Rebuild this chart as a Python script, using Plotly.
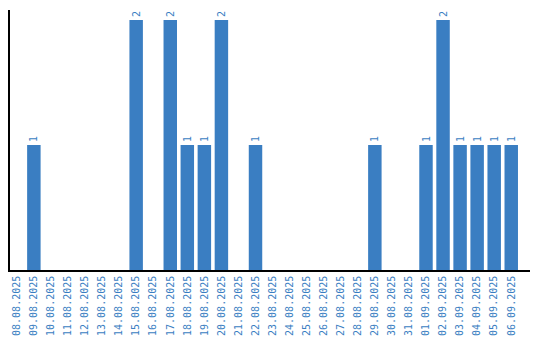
import plotly.graph_objects as go

dates = ["08.08.2025", "09.08.2025", "10.08.2025", "11.08.2025", "12.08.2025",
         "13.08.2025", "14.08.2025", "15.08.2025", "16.08.2025", "17.08.2025",
         "18.08.2025", "19.08.2025", "20.08.2025", "21.08.2025", "22.08.2025",
         "23.08.2025", "24.08.2025", "25.08.2025", "26.08.2025", "27.08.2025",
         "28.08.2025", "29.08.2025", "30.08.2025", "31.08.2025", "01.09.2025",
         "02.09.2025", "03.09.2025", "04.09.2025", "05.09.2025", "06.09.2025"]
counts = [0, 1, 0, 0, 0, 0, 0, 2, 0, 2,
          1, 1, 2, 0, 1, 0, 0, 0, 0, 0,
          0, 1, 0, 0, 1, 2, 1, 1, 1, 1]

labels = [str(v) if v else "" for v in counts]
color = "#3A7EC2"

fig = go.Figure(go.Bar(
    x=dates, y=counts, text=labels, textposition="outside",
    textangle=-90, cliponaxis=False,
    textfont=dict(family="DejaVu Sans Mono", size=10, color=color),
    marker=dict(color=color, line=dict(width=0)),
))
fig.update_layout(
    width=540, height=340,
    margin=dict(l=10, r=10, t=10, b=70),
    paper_bgcolor="white", plot_bgcolor="white",
    bargap=0.21, showlegend=False,
    font=dict(family="DejaVu Sans Mono", size=10, color=color),
)
fig.update_xaxes(type="category", range=[-0.4, 30.1], tickangle=-90,
                 showline=True, linecolor="black", linewidth=1.5,
                 showgrid=False, ticks="", ticklen=0, automargin=False,
                 tickfont=dict(family="DejaVu Sans Mono", size=10, color=color))
fig.update_yaxes(range=[0, 2.08], showline=True, linecolor="black", linewidth=1.5,
                 showgrid=False, zeroline=False, showticklabels=False, ticks="",
                 automargin=False)
fig.write_html("out.html")
